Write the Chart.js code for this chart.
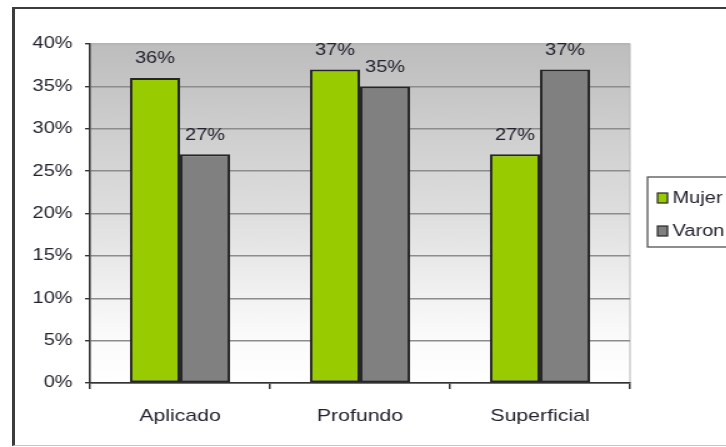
<!DOCTYPE html>
<html>
<head>
<meta charset="utf-8">
<script src="https://cdn.jsdelivr.net/npm/chart.js@4"></script>
<style>
  html, body { margin: 0; padding: 0; background: #fff; overflow: hidden; width: 726px; height: 447px; }
  #frame { position: absolute; left: 12px; top: 7px; width: 760px; height: 436px;
           border-left: 3px solid #3c3c3c; border-top: 2px solid #3c3c3c; border-bottom: 1px solid #c8c8c8; }
  /* the source picture is stretched sideways, so the chart is too */
  #wrap { position: absolute; left: 0; top: 0; width: 581px; height: 447px;
          transform: scaleX(1.25); transform-origin: 0 0; }
</style>
</head>
<body>
<div id="frame"></div>
<div id="wrap"><canvas id="chart"></canvas></div>
<script>
const categories = ["Aplicado", "Profundo", "Superficial"];
const seriesNames = ["Mujer", "Varon"];
const mujerValues = [36, 37, 27];
const varonValues = [27, 35, 37];
const yMax = 40;
const yStep = 5;

const FONT = "'Liberation Sans', Arial, sans-serif";
const colors = {
    mujer: "#99cc00",
    varon: "#808080",
    outline: "#262626",
    text: "#23232f",
    grid: "#8c8c8c"
};

// gradient panel behind the bars, plus its light frame
const plotBackground = {
    id: "plotBackground",
    beforeDraw(chart) {
        const { ctx, chartArea: a } = chart;
        const g = ctx.createLinearGradient(0, a.top, 0, a.bottom);
        g.addColorStop(0, "#bdbdbd");
        g.addColorStop(0.5, "#dedede");
        g.addColorStop(0.85, "#fafafa");
        g.addColorStop(1, "#ffffff");
        ctx.save();
        ctx.fillStyle = g;
        ctx.fillRect(a.left, a.top, a.right - a.left, a.bottom - a.top);
        ctx.strokeStyle = "#b4b4b4";
        ctx.lineWidth = 1;
        ctx.strokeRect(a.left, a.top, a.right - a.left, a.bottom - a.top);
        ctx.restore();
    }
};

// percentage labels above each bar
const barLabels = {
    id: "barLabels",
    afterDatasetsDraw(chart) {
        const { ctx } = chart;
        ctx.save();
        ctx.font = "16px " + FONT;
        ctx.fillStyle = colors.text;
        ctx.textAlign = "center";
        ctx.textBaseline = "middle";
        chart.data.datasets.forEach((ds, i) => {
            chart.getDatasetMeta(i).data.forEach((bar, j) => {
                ctx.fillText(ds.data[j] + "%", bar.x, bar.y - 19);
            });
        });
        ctx.restore();
    }
};

// boxed legend on the right, cut by the picture edge
const boxLegend = {
    id: "boxLegend",
    afterDraw(chart) {
        const { ctx } = chart;
        const x = 518, top = 177;
        ctx.save();
        ctx.fillStyle = "#ffffff";
        ctx.fillRect(x, top, 90, 70);
        ctx.strokeStyle = "#444";
        ctx.lineWidth = 1.2;
        ctx.strokeRect(x, top, 90, 70);
        ctx.font = "16px " + FONT;
        ctx.textBaseline = "middle";
        ctx.textAlign = "left";
        chart.data.datasets.forEach((ds, i) => {
            const cy = 198 + i * 33;
            ctx.fillStyle = ds.backgroundColor;
            ctx.fillRect(526, cy - 5, 8, 10);
            ctx.strokeStyle = colors.outline;
            ctx.lineWidth = 1.2;
            ctx.strokeRect(526, cy - 5, 8, 10);
            ctx.fillStyle = colors.text;
            ctx.fillText(ds.label, 538, cy + 1);
        });
        ctx.restore();
    }
};

new Chart(document.getElementById("chart"), {
    type: "bar",
    data: {
        labels: categories,
        datasets: [{
            label: seriesNames[0],
            data: mujerValues,
            backgroundColor: colors.mujer,
            borderColor: colors.outline,
            borderWidth: 2,
            borderSkipped: false
        }, {
            label: seriesNames[1],
            data: varonValues,
            backgroundColor: colors.varon,
            borderColor: colors.outline,
            borderWidth: 2,
            borderSkipped: false
        }]
    },
    options: {
        responsive: true,
        maintainAspectRatio: false,
        animation: false,
        layout: { padding: { left: 0, top: 44, right: 77, bottom: 0 } },
        datasets: {
            bar: { categoryPercentage: 0.556, barPercentage: 1 }
        },
        scales: {
            x: {
                afterFit: s => { s.height = 64; },
                grid: { offset: true, drawOnChartArea: false, tickLength: 6, tickColor: "#333", lineWidth: 1.5 },
                border: { color: "#333", width: 1.5 },
                ticks: { color: colors.text, font: { family: FONT, size: 17 }, padding: 17 }
            },
            y: {
                min: 0,
                max: yMax,
                afterFit: s => { s.width = 72; },
                grid: {
                    color: ctx => ctx.tick && ctx.tick.value === yMax ? "#b4b4b4" : colors.grid,
                    lineWidth: 1.4,
                    tickLength: 4,
                    tickColor: "#333"
                },
                border: { color: "#333", width: 1.5 },
                ticks: {
                    stepSize: yStep,
                    color: colors.text,
                    font: { family: FONT, size: 16 },
                    padding: 10,
                    callback: v => v + "%"
                }
            }
        },
        plugins: {
            legend: { display: false },
            tooltip: { enabled: false }
        }
    },
    plugins: [plotBackground, barLabels, boxLegend]
});
</script>
</body>
</html>
